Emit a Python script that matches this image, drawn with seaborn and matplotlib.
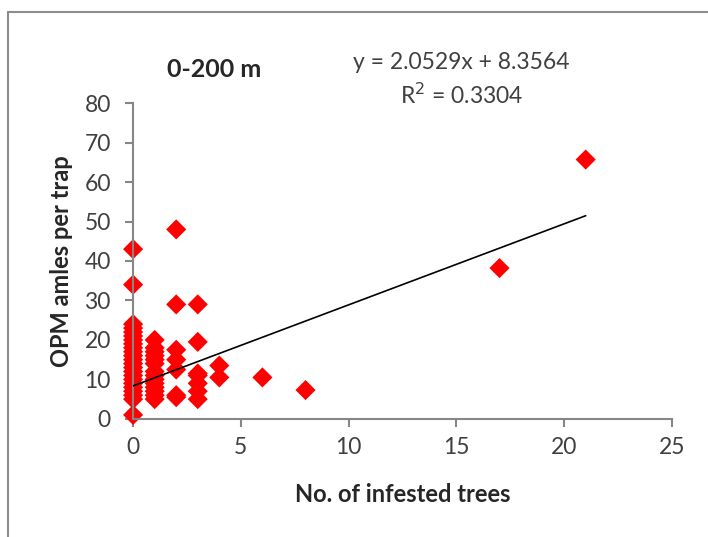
"""Scatter of OPM males per trap vs infested trees (0-200 m)."""
import matplotlib
matplotlib.use("Agg")
import matplotlib.pyplot as plt
from matplotlib.lines import Line2D
import pandas as pd
import seaborn as sns

# data
trees = (
    [0] * 23
    + [1] * 14
    + [2] * 7
    + [3] * 7
    + [4] * 2
    + [6, 8, 17, 21]
)
males = (
    [1, 5, 6, 7, 8, 9, 10, 11, 12, 13, 14, 15, 16, 17, 18, 19, 20, 21, 22, 23, 24, 34, 43]
    + [5, 6, 7, 8, 9, 10, 11, 12, 14, 15, 16, 17, 18, 20]
    + [48, 29, 17.5, 15, 12.5, 6, 5.5]
    + [29, 19.5, 11.5, 9, 7, 5, 11]
    + [13.5, 10.5]
    + [10.5, 7.3, 38.2, 65.7]
)
slope = 2.0529
intercept = 8.3564
r_squared = 0.3304
fit_x = [0, 21]

df = pd.DataFrame({"trees": trees, "males": males})
fit = pd.DataFrame({"x": fit_x, "y": [slope * v + intercept for v in fit_x]})

sns.set_style("white")
plt.rcParams["font.family"] = ["Lato", "DejaVu Sans"]

fig = plt.figure(figsize=(7.08, 5.37), dpi=100)
ax = fig.add_axes([0.188, 0.220, 0.761, 0.588])

sns.lineplot(data=fit, x="x", y="y", color="black", linewidth=1.2, ax=ax, zorder=3)
sns.scatterplot(data=df, x="trees", y="males", marker="D", s=105, color="#ff0000",
                edgecolor="none", ax=ax, zorder=2)

ax.set_xlim(0, 25)
ax.set_ylim(0, 80)
ax.set_xticks(range(0, 26, 5))
ax.set_yticks(range(0, 81, 10))
for c in ax.collections:
    c.set_clip_on(False)

sns.despine(ax=ax)
for side in ("left", "bottom"):
    ax.spines[side].set_color("#868686")
    ax.spines[side].set_linewidth(1.5)
ax.tick_params(axis="both", direction="out", length=6, width=1.5, color="#868686",
               labelsize=16.5, labelcolor="#404040", left=True, bottom=True)
ax.tick_params(axis="y", pad=10)
ax.tick_params(axis="x", pad=7)

ax.set_xlabel("No. of infested trees", fontsize=17, fontweight="bold", labelpad=18)
ax.set_ylabel("OPM amles per trap", fontsize=17, fontweight="bold", labelpad=8)

fig.text(0.302, 0.870, "0-200 m", fontsize=18, fontweight="bold", ha="center", va="center")
fig.text(0.652, 0.884, f"y = {slope}x + {intercept}", fontsize=16.5, ha="center",
         va="center", color="#404040")
fig.text(0.652, 0.823, f"R$^2$ = {r_squared}", fontsize=16.5, ha="center", va="center",
         color="#404040")

# chart-area frame (left and top edges visible)
fig.add_artist(Line2D([8 / 708, 8 / 708], [0, 1 - 12 / 537], color="#8c8c8c", linewidth=1.5))
fig.add_artist(Line2D([8 / 708, 1], [1 - 12 / 537, 1 - 12 / 537], color="#8c8c8c", linewidth=1.5))

fig.savefig("out.png", dpi=100)
plt.close(fig)
